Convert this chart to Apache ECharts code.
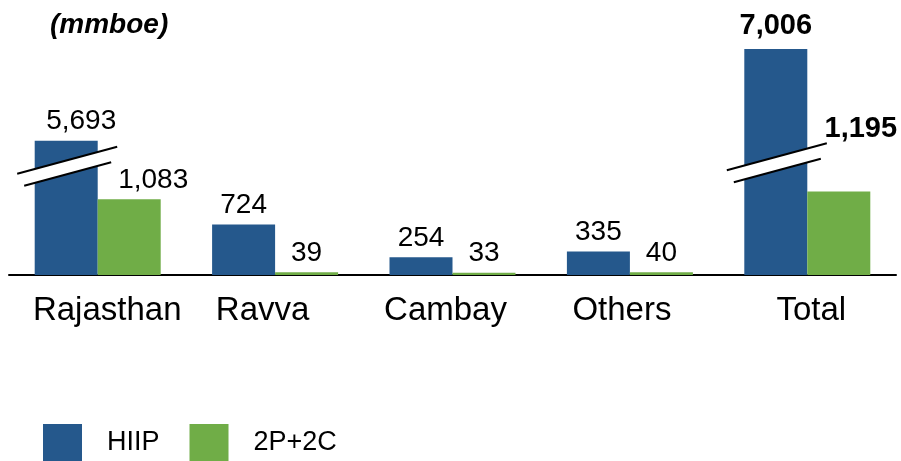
<!DOCTYPE html>
<html>
<head>
<meta charset="utf-8">
<script src="https://cdn.jsdelivr.net/npm/echarts@6/dist/echarts.min.js"></script>
<style>
  html, body { margin: 0; padding: 0; background: #fff; }
  #chart { width: 901px; height: 461px; }
</style>
</head>
<body>
<div id="chart"></div>
<script>
const categories = ['Rajasthan', 'Ravva', 'Cambay', 'Others', 'Total']
const hiip = [5693, 724, 254, 335, 7006]
const reserves = [1083, 39, 33, 40, 1195]
// slanted "axis break" marks: [category index, value where the cut sits]
const breakMarks = [[0, 1540], [4, 1590]]

const BLUE = '#25588c'
const GREEN = '#70ad47'
const FONT = 'Liberation Sans'
const BAR_W = 63

// a few labels are nudged / bolded in the original slide
const hiipLabels = {
  0: { offset: [15, 0] },
  4: { fontWeight: 'bold', fontSize: 29, distance: 9 }
}
const reserveLabels = {
  0: { offset: [24, 0] },
  4: { fontWeight: 'bold', fontSize: 29, offset: [22, -43] }
}
// category names are not quite centred under their bars in the slide
const catPadding = {
  Rajasthan: [0, 0, 0, 19],
  Ravva: [0, 25, 0, 0],
  Cambay: [0, 14, 0, 0],
  Others: [0, 16, 0, 0],
  Total: [0, 0, 0, 8]
}

function items (values, tweaks) {
  return values.map((v, i) => tweaks[i] ? { value: v, label: tweaks[i] } : v)
}

function fmt (p) {
  return p.value.toLocaleString('en-US')
}

const chart = echarts.init(document.getElementById('chart'))

chart.setOption({
  animation: false,
  textStyle: { fontFamily: FONT },
  title: {
    text: '(mmboe)',
    left: 45,
    top: 6,
    textStyle: { fontSize: 28, fontWeight: 'bold', fontStyle: 'italic', color: '#000', fontFamily: FONT }
  },
  legend: {
    data: ['HIIP', '2P+2C'],
    left: 38,
    top: 419,
    icon: 'rect',
    itemWidth: 39,
    itemHeight: 37,
    itemGap: 30,
    textStyle: { fontSize: 27, color: '#000', padding: [0, 0, 0, 20], fontFamily: FONT }
  },
  grid: {
    left: 9,
    right: 5,
    top: 49,
    bottom: 186
  },
  xAxis: {
    type: 'category',
    data: categories.map(c => ({ value: c, textStyle: { padding: catPadding[c] } })),
    axisLine: { lineStyle: { color: '#000', width: 2 } },
    axisTick: { show: false },
    axisLabel: { fontSize: 33, color: '#000', margin: 19, interval: 0, fontFamily: FONT }
  },
  yAxis: {
    type: 'value',
    min: 0,
    max: 7006,
    breaks: [{ start: 1650, end: 5520, gap: 100 }],
    breakArea: { show: false },
    axisLine: { show: false },
    axisTick: { show: false },
    axisLabel: { show: false },
    splitLine: { show: false }
  },
  series: [
    {
      name: 'HIIP',
      type: 'bar',
      barWidth: BAR_W,
      barGap: 0,
      itemStyle: { color: BLUE },
      label: { show: true, position: 'top', distance: 5, fontSize: 28, color: '#000', formatter: fmt, fontFamily: FONT },
      data: items(hiip, hiipLabels)
    },
    {
      name: '2P+2C',
      type: 'bar',
      barWidth: BAR_W,
      barGap: 0,
      itemStyle: { color: GREEN },
      label: { show: true, position: 'top', distance: 5, fontSize: 28, color: '#000', formatter: fmt, fontFamily: FONT },
      data: items(reserves, reserveLabels)
    },
    {
      type: 'custom',
      z: 5,
      silent: true,
      data: breakMarks,
      renderItem (params, api) {
        const p = api.coord([api.value(0), api.value(1)])
        const cx = p[0] - BAR_W / 2
        const cy = p[1]
        const k = 0.27
        const y = (dx, off) => cy + off - k * dx
        const line = (a, b, off) => ({
          type: 'line',
          shape: { x1: cx + a, y1: y(a, off), x2: cx + b, y2: y(b, off) },
          style: { stroke: '#000', lineWidth: 2 }
        })
        return {
          type: 'group',
          children: [
            {
              type: 'polygon',
              shape: { points: [[cx - 33, y(-33, -7)], [cx + 33, y(33, -7)], [cx + 33, y(33, 7)], [cx - 33, y(-33, 7)]] },
              style: { fill: '#fff' }
            },
            line(-49, 51, -7),
            line(-42, 45, 7)
          ]
        }
      }
    }
  ]
})
</script>
</body>
</html>
